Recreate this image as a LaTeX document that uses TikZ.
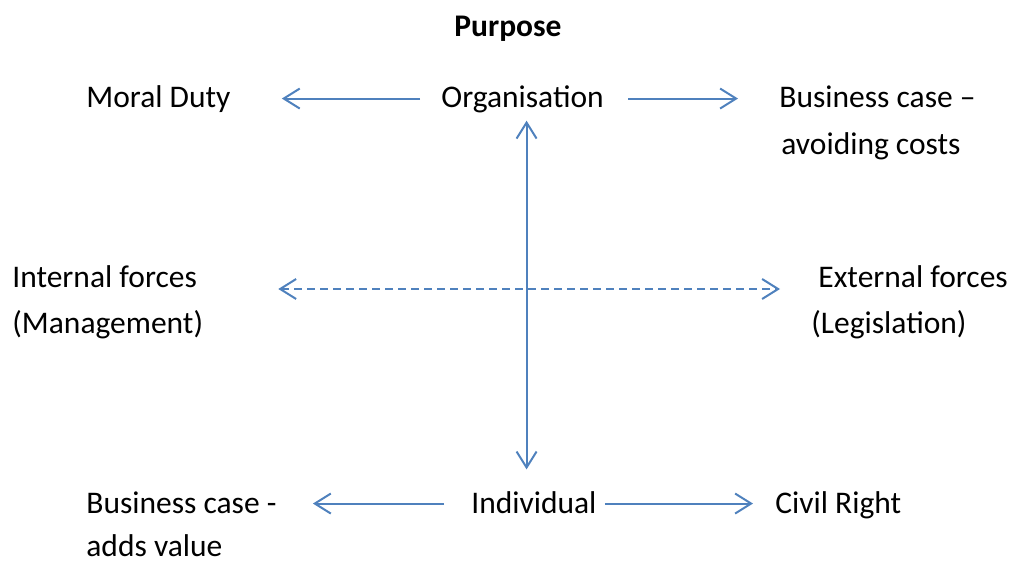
\documentclass[tikz,border=0pt]{standalone}
\usepackage{fontspec}
\setmainfont{Carlito}
\usetikzlibrary{arrows.meta}

\definecolor{linkblue}{HTML}{4F81BD}
\tikzset{
  lbl/.style={font=\fontsize{15.75}{22}\selectfont, inner sep=0pt, anchor=base west, text height=12.6pt, text depth=3.15pt},
  arr/.style={draw=linkblue, line width=1pt, -{Straight Barb[length=8pt,width=10pt,line width=1pt]}},
  dblarr/.style={draw=linkblue, line width=1pt, {Straight Barb[length=8pt,width=10pt,line width=1pt]}-{Straight Barb[length=8pt,width=10pt,line width=1pt]}},
}

\begin{document}
\begin{tikzpicture}[x=0.5pt, y=-0.5pt]
\useasboundingbox (0,0) rectangle (1017,561);

\node[lbl, anchor=base, font=\fontsize{15.75}{22}\selectfont\bfseries] (purpose) at (508,37) {Purpose};

\node[lbl] (moral) at (86,108) {Moral Duty};
\node[lbl] (org) at (441,108) {Organisation};
\node[lbl] (bcost) at (779,108) {Business case --};
\node[lbl] (bcost2) at (781,155) {avoiding costs};

\node[lbl] (intf) at (12,287) {Internal forces};
\node[lbl] (intf2) at (12,334) {(Management)};
\node[lbl] (extf) at (818,287) {External forces};
\node[lbl] (extf2) at (811,334) {(Legislation)};

\node[lbl] (bval) at (86,513) {Business case -};
\node[lbl, text depth=1pt] (bval2) at (86,556) {adds value};
\node[lbl] (ind) at (471,513) {Individual};
\node[lbl] (civil) at (775,513) {Civil Right};

\draw[arr, shorten <=10.5pt, shorten >=25.5pt] (org) -- (moral);
\draw[arr, shorten <=12pt, shorten >=20.5pt] (org) -- (bcost);
\draw[dblarr, shorten <=3pt, shorten >=9pt] ([xshift=2pt]org.south) -- ([xshift=2pt]org.south |- ind.north);
\draw[dblarr, dash pattern=on 4pt off 2.5pt, shorten <=40.5pt, shorten >=19pt] ([yshift=-1pt]intf.base east) -- ([yshift=-1pt]extf.base west);
\draw[arr, shorten <=13.5pt, shorten >=18pt] (ind) -- (bval);
\draw[arr, shorten <=4pt, shorten >=11pt] (ind) -- (civil);

\end{tikzpicture}
\end{document}
